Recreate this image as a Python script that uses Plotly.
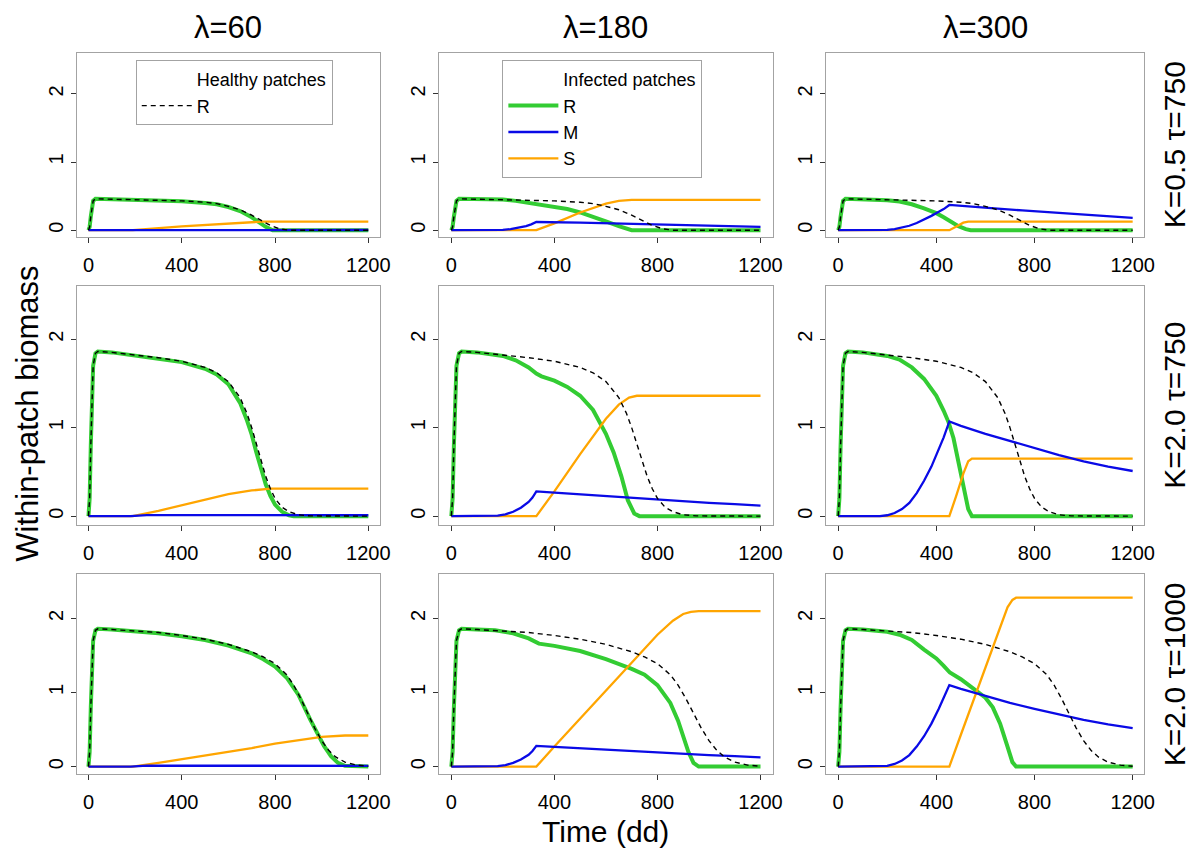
import plotly.graph_objects as go
from plotly.subplots import make_subplots

W, H = 1204, 849

# ---------------- column / row labels ----------------
lambda_labels = ["λ=60", "λ=180", "λ=300"]
row_labels = ["K=0.5 τ=750", "K=2.0 τ=750", "K=2.0 τ=1000"]
x_ticks = [0, 400, 800, 1200]
y_ticks = [0, 1, 2]

# ---------------- healthy patches R (dashed), one per row ----------------
t_healthy_r1 = [0, 5, 10, 15, 20, 30, 100, 200, 300, 400, 500, 550, 600, 650, 700, 740, 780, 820, 860, 1200]
R_healthy_r1 = [0, 0.05, 0.2, 0.36, 0.43, 0.46, 0.455, 0.45, 0.44, 0.43, 0.41, 0.39, 0.35, 0.30, 0.22, 0.14, 0.07, 0.02, 0, 0]

t_healthy_r2 = [0, 5, 10, 15, 20, 30, 40, 100, 200, 300, 400, 500, 550, 600, 650, 680, 700, 720, 740, 760, 780, 800, 830, 860, 900, 950, 1200]
R_healthy_r2 = [0, 0.2, 0.8, 1.4, 1.7, 1.84, 1.86, 1.85, 1.82, 1.79, 1.75, 1.68, 1.62, 1.52, 1.34, 1.16, 1.0, 0.82, 0.63, 0.45, 0.31, 0.2, 0.1, 0.05, 0.015, 0.003, 0]

t_healthy_r3 = [0, 5, 10, 15, 20, 30, 40, 100, 200, 300, 400, 500, 600, 700, 750, 800, 850, 880, 910, 940, 970, 1000, 1030, 1060, 1100, 1150, 1200]
R_healthy_r3 = [0, 0.2, 0.8, 1.4, 1.7, 1.84, 1.86, 1.85, 1.83, 1.81, 1.77, 1.72, 1.65, 1.55, 1.48, 1.39, 1.24, 1.10, 0.92, 0.72, 0.52, 0.35, 0.22, 0.13, 0.06, 0.02, 0.005]

# ---------------- infected patches: row 1 (K=0.5, tau=750) ----------------
t_R_r1c1 = [0, 5, 10, 15, 20, 30, 100, 200, 300, 400, 500, 550, 600, 650, 700, 730, 760, 790, 1200]
R_r1c1 = [0, 0.05, 0.2, 0.36, 0.43, 0.46, 0.455, 0.45, 0.44, 0.425, 0.40, 0.38, 0.34, 0.28, 0.19, 0.12, 0.05, 0, 0]
t_M_r1c1 = [0, 190, 250, 1200]
M_r1c1 = [0, 0, 0.004, 0.003]
t_S_r1c1 = [0, 190, 400, 600, 750, 1200]
S_r1c1 = [0, 0, 0.055, 0.10, 0.127, 0.127]

t_R_r1c2 = [0, 5, 10, 15, 20, 30, 100, 200, 250, 300, 340, 400, 450, 500, 550, 600, 650, 700, 1200]
R_r1c2 = [0, 0.05, 0.2, 0.36, 0.43, 0.46, 0.455, 0.45, 0.43, 0.40, 0.37, 0.34, 0.31, 0.26, 0.20, 0.13, 0.06, 0, 0]
t_M_r1c2 = [0, 170, 200, 230, 260, 290, 310, 330, 500, 700, 900, 1200]
M_r1c2 = [0, 0, 0.004, 0.015, 0.033, 0.06, 0.085, 0.12, 0.11, 0.09, 0.07, 0.05]
t_S_r1c2 = [0, 330, 400, 500, 600, 650, 700, 1200]
S_r1c2 = [0, 0, 0.10, 0.26, 0.39, 0.43, 0.445, 0.445]

t_R_r1c3 = [0, 5, 10, 15, 20, 30, 100, 200, 250, 300, 350, 400, 430, 460, 490, 520, 540, 1200]
R_r1c3 = [0, 0.05, 0.2, 0.36, 0.43, 0.46, 0.455, 0.44, 0.42, 0.38, 0.32, 0.25, 0.19, 0.12, 0.06, 0.015, 0, 0]
t_M_r1c3 = [0, 170, 200, 230, 260, 290, 320, 350, 380, 410, 430, 453, 550, 650, 750, 850, 950, 1050, 1200]
M_r1c3 = [0, 0, 0.004, 0.015, 0.035, 0.065, 0.105, 0.155, 0.21, 0.27, 0.31, 0.37, 0.34, 0.315, 0.29, 0.265, 0.24, 0.215, 0.18]
t_S_r1c3 = [0, 453, 480, 510, 530, 1200]
S_r1c3 = [0, 0, 0.05, 0.11, 0.127, 0.127]

# ---------------- infected patches: row 2 (K=2.0, tau=750) ----------------
t_R_r2c1 = [0, 5, 10, 15, 20, 30, 40, 100, 200, 300, 400, 500, 550, 600, 650, 680, 700, 720, 740, 760, 780, 800, 830, 860, 880, 1200]
R_r2c1 = [0, 0.2, 0.8, 1.4, 1.7, 1.84, 1.86, 1.85, 1.815, 1.78, 1.74, 1.665, 1.60, 1.49, 1.28, 1.08, 0.92, 0.72, 0.53, 0.36, 0.23, 0.13, 0.05, 0.01, 0, 0]
t_M_r2c1 = [0, 180, 250, 1200]
M_r2c1 = [0, 0, 0.012, 0.01]
t_S_r2c1 = [0, 190, 300, 400, 500, 600, 700, 780, 1200]
S_r2c1 = [0, 0, 0.06, 0.125, 0.19, 0.25, 0.29, 0.31, 0.31]

t_R_r2c2 = [0, 5, 10, 15, 20, 30, 40, 100, 200, 250, 300, 330, 350, 400, 450, 500, 550, 600, 630, 660, 685, 710, 730, 1200]
R_r2c2 = [0, 0.2, 0.8, 1.4, 1.7, 1.84, 1.86, 1.85, 1.81, 1.76, 1.68, 1.61, 1.58, 1.53, 1.46, 1.36, 1.20, 0.93, 0.72, 0.45, 0.18, 0.03, 0, 0]
t_M_r2c2 = [0, 150, 180, 210, 240, 270, 300, 315, 330, 400, 500, 600, 700, 800, 900, 1000, 1100, 1200]
M_r2c2 = [0, 0, 0.006, 0.02, 0.05, 0.095, 0.16, 0.21, 0.28, 0.265, 0.245, 0.225, 0.205, 0.185, 0.165, 0.15, 0.135, 0.12]
t_S_r2c2 = [0, 330, 400, 500, 600, 650, 690, 720, 1200]
S_r2c2 = [0, 0, 0.28, 0.70, 1.10, 1.26, 1.34, 1.36, 1.36]

t_R_r2c3 = [0, 5, 10, 15, 20, 30, 40, 100, 150, 200, 250, 300, 350, 400, 430, 450, 470, 490, 510, 530, 545, 1200]
R_r2c3 = [0, 0.2, 0.8, 1.4, 1.7, 1.84, 1.86, 1.85, 1.83, 1.81, 1.77, 1.68, 1.55, 1.36, 1.19, 1.06, 0.88, 0.62, 0.33, 0.08, 0, 0]
t_M_r2c3 = [0, 170, 200, 230, 260, 290, 320, 350, 380, 410, 430, 453, 500, 600, 700, 800, 900, 1000, 1100, 1200]
M_r2c3 = [0, 0, 0.01, 0.035, 0.08, 0.15, 0.26, 0.40, 0.56, 0.76, 0.89, 1.07, 1.02, 0.93, 0.85, 0.77, 0.69, 0.62, 0.56, 0.51]
t_S_r2c3 = [0, 453, 480, 510, 530, 545, 1200]
S_r2c3 = [0, 0, 0.22, 0.48, 0.62, 0.65, 0.65]

# ---------------- infected patches: row 3 (K=2.0, tau=1000) ----------------
t_R_r3c1 = [0, 5, 10, 15, 20, 30, 40, 100, 200, 300, 400, 500, 600, 700, 750, 800, 850, 900, 950, 980, 1010, 1040, 1070, 1100, 1200]
R_r3c1 = [0, 0.2, 0.8, 1.4, 1.7, 1.84, 1.86, 1.85, 1.825, 1.80, 1.76, 1.71, 1.635, 1.53, 1.45, 1.35, 1.20, 0.97, 0.64, 0.45, 0.28, 0.14, 0.05, 0.01, 0]
t_M_r3c1 = [0, 180, 250, 1200]
M_r3c1 = [0, 0, 0.013, 0.01]
t_S_r3c1 = [0, 190, 300, 400, 500, 600, 700, 800, 900, 1000, 1100, 1200]
S_r3c1 = [0, 0, 0.05, 0.10, 0.15, 0.20, 0.25, 0.31, 0.36, 0.40, 0.42, 0.42]

t_R_r3c2 = [0, 5, 10, 15, 20, 30, 40, 100, 170, 240, 300, 340, 400, 500, 600, 700, 750, 800, 850, 880, 900, 920, 940, 960, 1200]
R_r3c2 = [0, 0.2, 0.8, 1.4, 1.7, 1.84, 1.86, 1.85, 1.84, 1.80, 1.73, 1.66, 1.63, 1.56, 1.45, 1.32, 1.24, 1.10, 0.86, 0.62, 0.42, 0.2, 0.05, 0, 0]
t_M_r3c2 = [0, 150, 180, 210, 240, 270, 300, 315, 330, 400, 500, 600, 700, 800, 900, 1000, 1100, 1200]
M_r3c2 = [0, 0, 0.006, 0.02, 0.05, 0.095, 0.16, 0.21, 0.28, 0.265, 0.245, 0.225, 0.205, 0.185, 0.17, 0.155, 0.14, 0.125]
t_S_r3c2 = [0, 330, 400, 500, 600, 700, 800, 860, 900, 930, 960, 1200]
S_r3c2 = [0, 0, 0.27, 0.65, 1.03, 1.41, 1.78, 1.97, 2.06, 2.09, 2.10, 2.10]

t_R_r3c3 = [0, 5, 10, 15, 20, 30, 40, 100, 150, 200, 250, 300, 350, 400, 430, 455, 500, 550, 600, 630, 660, 690, 710, 725, 1200]
R_r3c3 = [0, 0.2, 0.8, 1.4, 1.7, 1.84, 1.86, 1.85, 1.84, 1.82, 1.78, 1.71, 1.58, 1.46, 1.36, 1.27, 1.18, 1.06, 0.93, 0.80, 0.58, 0.27, 0.06, 0, 0]
t_M_r3c3 = [0, 170, 200, 230, 260, 290, 320, 350, 380, 410, 430, 453, 500, 600, 700, 800, 900, 1000, 1100, 1200]
M_r3c3 = [0, 0, 0.01, 0.036, 0.082, 0.155, 0.27, 0.41, 0.58, 0.78, 0.92, 1.10, 1.05, 0.95, 0.86, 0.78, 0.70, 0.63, 0.57, 0.52]
t_S_r3c3 = [0, 453, 500, 550, 600, 650, 690, 710, 725, 1200]
S_r3c3 = [0, 0, 0.43, 0.89, 1.35, 1.81, 2.15, 2.25, 2.28, 2.28]

healthy = {
    1: (t_healthy_r1, R_healthy_r1),
    2: (t_healthy_r2, R_healthy_r2),
    3: (t_healthy_r3, R_healthy_r3),
}
infected = {
    (1, 1): ((t_R_r1c1, R_r1c1), (t_M_r1c1, M_r1c1), (t_S_r1c1, S_r1c1)),
    (1, 2): ((t_R_r1c2, R_r1c2), (t_M_r1c2, M_r1c2), (t_S_r1c2, S_r1c2)),
    (1, 3): ((t_R_r1c3, R_r1c3), (t_M_r1c3, M_r1c3), (t_S_r1c3, S_r1c3)),
    (2, 1): ((t_R_r2c1, R_r2c1), (t_M_r2c1, M_r2c1), (t_S_r2c1, S_r2c1)),
    (2, 2): ((t_R_r2c2, R_r2c2), (t_M_r2c2, M_r2c2), (t_S_r2c2, S_r2c2)),
    (2, 3): ((t_R_r2c3, R_r2c3), (t_M_r2c3, M_r2c3), (t_S_r2c3, S_r2c3)),
    (3, 1): ((t_R_r3c1, R_r3c1), (t_M_r3c1, M_r3c1), (t_S_r3c1, S_r3c1)),
    (3, 2): ((t_R_r3c2, R_r3c2), (t_M_r3c2, M_r3c2), (t_S_r3c2, S_r3c2)),
    (3, 3): ((t_R_r3c3, R_r3c3), (t_M_r3c3, M_r3c3), (t_S_r3c3, S_r3c3)),
}

GREEN = "#33cc33"
BLUE = "#0a0ae6"
ORANGE = "#ffa500"
FONT = "Liberation Sans, Arial, Helvetica, sans-serif"

# panel geometry in pixels
col_px = [(78, 383), (443, 780), (834, 1155)]
row_px = [(53, 237), (286, 525), (574, 774)]

fig = make_subplots(rows=3, cols=3)

for r in range(1, 4):
    for c in range(1, 4):
        (tR, R), (tM, M), (tS, S) = infected[(r, c)]
        tH, RH = healthy[r]
        first = (r == 1 and c == 1)
        fig.add_trace(go.Scatter(x=tR, y=R, mode="lines", line=dict(color=GREEN, width=4),
                                 name="R", legend="legend2", showlegend=first, legendrank=2,
                                 hoverinfo="skip"), row=r, col=c)
        fig.add_trace(go.Scatter(x=tS, y=S, mode="lines", line=dict(color=ORANGE, width=2.3),
                                 name="S", legend="legend2", showlegend=first, legendrank=4,
                                 hoverinfo="skip"), row=r, col=c)
        fig.add_trace(go.Scatter(x=tM, y=M, mode="lines", line=dict(color=BLUE, width=2.3),
                                 name="M", legend="legend2", showlegend=first, legendrank=3,
                                 hoverinfo="skip"), row=r, col=c)
        fig.add_trace(go.Scatter(x=tH, y=RH, mode="lines",
                                 line=dict(color="black", width=1.4, dash="5px,4px"),
                                 name="R", legend="legend", showlegend=first, legendrank=2,
                                 hoverinfo="skip"), row=r, col=c)
        x0, x1 = col_px[c - 1]
        y0, y1 = row_px[r - 1]
        axis_common = dict(showline=True, mirror=True, linecolor="#a3a3a3", linewidth=1,
                           ticks="outside", ticklen=5, tickwidth=1, tickcolor="#333333",
                           showgrid=False, zeroline=False,
                           tickfont=dict(family=FONT, size=20, color="black"))
        fig.update_xaxes(domain=[x0 / W, x1 / W], range=[-48, 1248], tickvals=x_ticks,
                         ticktext=[str(v) for v in x_ticks], ticklabelstandoff=5,
                         row=r, col=c, **axis_common)
        fig.update_yaxes(domain=[1 - y1 / H, 1 - y0 / H], range=[-0.1, 2.6], tickvals=y_ticks,
                         ticktext=[str(v) for v in y_ticks], tickangle=-90, row=r, col=c,
                         **axis_common)

# legend headers (no symbol)
fig.add_trace(go.Scatter(x=[None], y=[None], mode="lines", line=dict(width=0, color="rgba(0,0,0,0)"),
                         name="Healthy patches", legend="legend", legendrank=1, hoverinfo="skip"),
              row=1, col=1)
fig.add_trace(go.Scatter(x=[None], y=[None], mode="lines", line=dict(width=0, color="rgba(0,0,0,0)"),
                         name="Infected patches", legend="legend2", legendrank=1, hoverinfo="skip"),
              row=1, col=2)

annotations = []
for i, lab in enumerate(lambda_labels):
    x0, x1 = col_px[i]
    annotations.append(dict(text=lab, x=(x0 + x1) / 2 / W, y=1 - 27 / H, xref="paper", yref="paper",
                            showarrow=False, xanchor="center", yanchor="middle",
                            font=dict(family=FONT, size=31, color="black")))
for i, lab in enumerate(row_labels):
    y0, y1 = row_px[i]
    annotations.append(dict(text=lab, x=1185 / W, y=1 - (y0 + y1) / 2 / H, xref="paper", yref="paper",
                            showarrow=False, xanchor="center", yanchor="middle", textangle=-90,
                            font=dict(family=FONT, size=30, color="black")))
annotations.append(dict(text="Within-patch biomass", x=27 / W, y=1 - 414 / H, xref="paper", yref="paper",
                        showarrow=False, xanchor="center", yanchor="middle", textangle=-90,
                        font=dict(family=FONT, size=31, color="black")))
annotations.append(dict(text="Time (dd)", x=611 / W, y=1 - 831 / H, xref="paper", yref="paper",
                        showarrow=False, xanchor="center", yanchor="middle",
                        font=dict(family=FONT, size=30, color="black")))

legend_style = dict(bordercolor="#a3a3a3", borderwidth=1, bgcolor="white",
                    font=dict(family=FONT, size=18, color="black"),
                    xanchor="left", yanchor="top", itemwidth=50, traceorder="normal",
                    xref="paper", yref="paper")

fig.update_layout(
    width=W, height=H,
    margin=dict(l=0, r=0, t=0, b=0),
    paper_bgcolor="white", plot_bgcolor="white",
    font=dict(family=FONT, color="black"),
    annotations=annotations,
    legend=dict(x=137 / W, y=1 - 60 / H, **legend_style),
    legend2=dict(x=507 / W, y=1 - 60 / H, **legend_style),
)

fig.write_html("out.html")
